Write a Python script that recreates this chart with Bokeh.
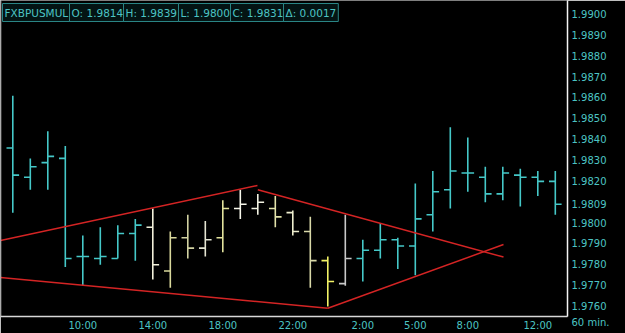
from bokeh.plotting import figure
from bokeh.models import Range1d, FixedTicker, PrintfTickFormatter, Label, Span
from bokeh.embed import file_html
from bokeh.resources import INLINE

# ---- data -----------------------------------------------------------------
bar_index = list(range(32))
opens = [1.9836, 1.9822, 1.9829, 1.9831, 1.9784, 1.9783, 1.9783, 1.9795,
         1.9798, 1.9777, 1.9793, 1.9788, 1.9793, 1.9807, 1.9807, 1.9807,
         1.9805, 1.9796, 1.9782, 1.9771, 1.9783, 1.9787, 1.9792, 1.9789,
         1.9804, 1.9816, 1.9824, 1.9822, 1.9814, 1.9823, 1.9822, 1.9820]
highs = [1.9861, 1.9831, 1.9844, 1.9837, 1.9794, 1.9798, 1.9799, 1.9802,
         1.9807, 1.9796, 1.9804, 1.9801, 1.9811, 1.9816, 1.9814, 1.9813,
         1.9806, 1.9803, 1.9784, 1.9804, 1.9792, 1.9800, 1.9793, 1.9819,
         1.9825, 1.9846, 1.9841, 1.9827, 1.9827, 1.9826, 1.9825, 1.9825]
lows = [1.9805, 1.9816, 1.9816, 1.9779, 1.9770, 1.9780, 1.9783, 1.9782,
        1.9773, 1.9769, 1.9783, 1.9784, 1.9786, 1.9802, 1.9804, 1.9798,
        1.9794, 1.9769, 1.9760, 1.9770, 1.9772, 1.9783, 1.9778, 1.9775,
        1.9796, 1.9807, 1.9815, 1.9810, 1.9811, 1.9808, 1.9813, 1.9804]
closes = [1.9823, 1.9827, 1.9832, 1.9783, 1.9784, 1.9784, 1.9795, 1.9799,
          1.9780, 1.9793, 1.9788, 1.9792, 1.9807, 1.9809, 1.9810, 1.9803,
          1.9796, 1.9782, 1.9772, 1.9783, 1.9787, 1.9792, 1.9789, 1.9802,
          1.9815, 1.9825, 1.9824, 1.9814, 1.9824, 1.9822, 1.9820, 1.9809]

CYAN = "#45c8c8"
bar_colors = [CYAN] * 8 + ["#f2f0da", "#d9d89c", "#d2d2a2", "#e4e4d2", "#e2e29c",
                           "#f6f6ea", "#f2f2e2", "#e2e2aa", "#eeeece", "#d8d8a8",
                           "#f2f266", "#c8c8c8"] + [CYAN] * 12

time_tick_index = [4, 8, 12, 16, 20, 23, 26, 30]
time_tick_labels = ["10:00", "14:00", "18:00", "22:00", "2:00", "5:00", "8:00", "12:00"]
price_ticks = [1.9760, 1.9770, 1.9780, 1.9790, 1.9800, 1.9820, 1.9830,
               1.9840, 1.9850, 1.9860, 1.9870, 1.9880, 1.9890, 1.9900]

# trend lines (bar index, price)
upper_left_x, upper_left_y = [-0.70, 13.98], [1.97917, 1.98180]
upper_right_x, upper_right_y = [14.0, 28.04], [1.98160, 1.97837]
lower_left_x, lower_left_y = [-0.70, 18.0], [1.97739, 1.97592]
lower_right_x, lower_right_y = [18.0, 28.04], [1.97592, 1.97897]

header_texts = ["FXBPUSMUL", "O: 1.9814", "H: 1.9839", "L: 1.9800", "C: 1.9831", "\u0394: 0.0017"]
interval_text = "60 min."

# ---- figure -----------------------------------------------------------------
W, H = 625, 333
FRAME_W, FRAME_H = 567, 316
TEAL = "#4cc4c4"
FONT = "DejaVu Sans"
Y0, Y1 = 1.975522, 1.99067

x0 = -12.3 / 17.5
x1 = (FRAME_W - 12.3) / 17.5
p = figure(width=W, height=H, output_backend="svg", toolbar_location=None,
           x_range=Range1d(x0, x1), y_range=Range1d(Y0, Y1),
           y_axis_location="right", min_border=0)
p.min_border_left = 0
p.min_border_top = 0
p.min_border_right = W - FRAME_W
p.min_border_bottom = H - FRAME_H
p.background_fill_color = "black"
p.border_fill_color = "black"
p.outline_line_color = None
p.grid.visible = False

# OHLC bars
tick = 0.36
p.segment(x0=bar_index, y0=lows, x1=bar_index, y1=highs, line_color=bar_colors, line_width=1.6)
p.segment(x0=[i - tick for i in bar_index], y0=opens, x1=bar_index, y1=opens,
          line_color=bar_colors, line_width=1.6)
p.segment(x0=bar_index, y0=closes, x1=[i + tick for i in bar_index], y1=closes,
          line_color=bar_colors, line_width=1.6)

RED = "#d42424"
for xs, ys in [(upper_left_x, upper_left_y), (upper_right_x, upper_right_y),
               (lower_left_x, lower_left_y), (lower_right_x, lower_right_y)]:
    p.line(xs, ys, line_color=RED, line_width=1.5)

# left border
p.add_layout(Span(location=x0, dimension="height", line_color="#d8d8d8", line_width=1.5))

# axes
corner_tick = Y0 + 0.00001   # bottom corner of the price scale carries the interval text
ya = p.yaxis[0]
ya.ticker = FixedTicker(ticks=price_ticks + [closes[-1], corner_tick])
ya.formatter = PrintfTickFormatter(format="%.4f")
ya.major_label_overrides = {corner_tick: " \n" + interval_text}
ya.major_tick_line_color = None
ya.minor_tick_line_color = None
ya.major_tick_out = 0
ya.major_tick_in = 0
ya.minor_tick_out = 0
ya.axis_line_color = "#f4f4f4"
ya.axis_line_width = 1.5
ya.major_label_text_color = TEAL
ya.major_label_text_font = FONT
ya.major_label_text_font_size = "10px"
ya.major_label_standoff = 4

xa = p.xaxis[0]
xa.ticker = FixedTicker(ticks=time_tick_index)
xa.major_label_overrides = {i: s for i, s in zip(time_tick_index, time_tick_labels)}
xa.major_tick_line_color = None
xa.minor_tick_line_color = None
xa.major_tick_out = 0
xa.major_tick_in = 0
xa.minor_tick_out = 0
xa.axis_line_color = "#d8d8d8"
xa.axis_line_width = 1.5
xa.major_label_text_color = TEAL
xa.major_label_text_font = FONT
xa.major_label_text_font_size = "10px"
xa.major_label_standoff = 3

# header boxes
header_left = [0, 67, 121, 176, 228, 281]
for hx, t in zip(header_left, header_texts):
    p.add_layout(Label(x=hx + 2, y=FRAME_H - 3, x_units="screen", y_units="screen", text=t,
                       text_align="left", text_baseline="top", text_font=FONT,
                       text_font_size="10.5px", text_color=TEAL,
                       background_fill_color="#041414", border_line_color="#2a8585",
                       padding=(2, 3)))

open("out.html", "w").write(file_html(p, INLINE))
